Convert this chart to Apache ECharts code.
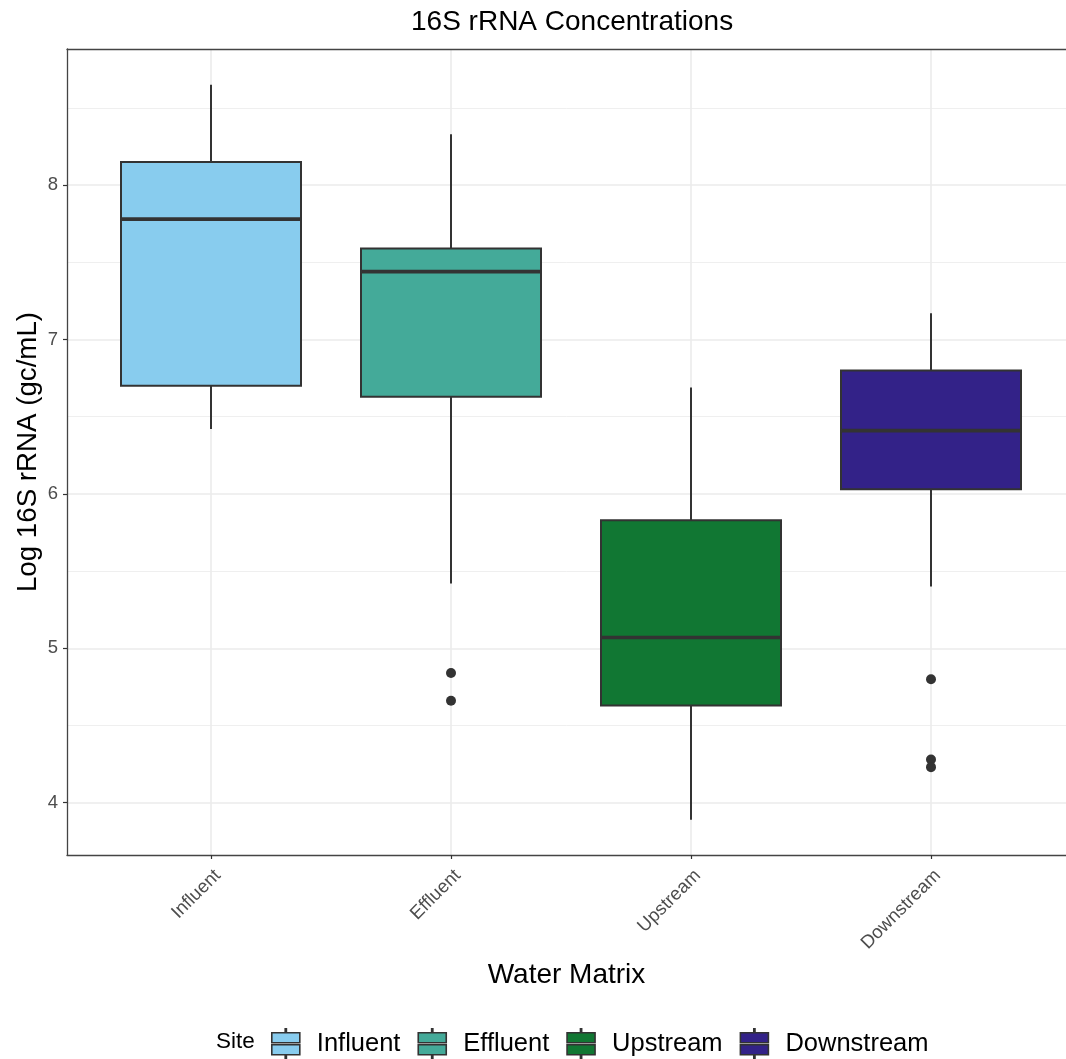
<!DOCTYPE html>
<html>
<head>
<meta charset="utf-8">
<script src="https://cdn.jsdelivr.net/npm/echarts@6/dist/echarts.min.js"></script>
<style>
html,body{margin:0;padding:0;background:#fff;overflow:hidden;}
#chart{width:1066px;height:1059px;}
</style>
</head>
<body>
<div id="chart"></div>
<script>
// ---- data ----
const categories = ['Influent', 'Effluent', 'Upstream', 'Downstream'];
const lowWhisker  = [6.42, 5.42, 3.89, 5.40];
const q1          = [6.70, 6.63, 4.63, 6.03];
const median      = [7.78, 7.44, 5.07, 6.41];
const q3          = [8.15, 7.59, 5.83, 6.80];
const highWhisker = [8.65, 8.33, 6.69, 7.17];
const outlierSite  = ['Effluent', 'Effluent', 'Downstream', 'Downstream', 'Downstream'];
const outlierValue = [4.84, 4.66, 4.80, 4.28, 4.23];
const yTicks = [4, 5, 6, 7, 8];

// ---- style ----
const colors = ['#88CCEE', '#44AA99', '#117733', '#332288'];
const FONT = '"Liberation Sans", Arial, Helvetica, sans-serif';
const catPos = categories.map((c, i) => i + 1);
// panel runs past the right edge of the picture (cropped), so x range ends early
const X_MIN = 0.4, X_MAX = 4.5625;

function renderBox(params, api) {
  const x = api.value(0);
  const lo = api.coord([x, api.value(1)]);
  const b1 = api.coord([x, api.value(2)]);
  const md = api.coord([x, api.value(3)]);
  const b3 = api.coord([x, api.value(4)]);
  const hi = api.coord([x, api.value(5)]);
  const w = api.size([0.75, 0])[0];
  const cx = lo[0];
  const fill = api.visual('color');
  const ls = { stroke: '#333333', lineWidth: 2 };
  return {
    type: 'group',
    children: [
      { type: 'line', shape: { x1: cx, y1: b3[1], x2: cx, y2: hi[1] }, style: ls },
      { type: 'line', shape: { x1: cx, y1: b1[1], x2: cx, y2: lo[1] }, style: ls },
      { type: 'rect', shape: { x: cx - w / 2, y: b3[1], width: w, height: b1[1] - b3[1] },
        style: { fill: fill, stroke: '#333333', lineWidth: 2 } },
      { type: 'line', shape: { x1: cx - w / 2, y1: md[1], x2: cx + w / 2, y2: md[1] },
        style: { stroke: '#333333', lineWidth: 3.6 } }
    ]
  };
}

const boxSeries = categories.map((name, i) => ({
  type: 'custom',
  name: name,
  itemStyle: { color: colors[i] },
  data: [[catPos[i], lowWhisker[i], q1[i], median[i], q3[i], highWhisker[i]]],
  encode: { x: 0, y: [1, 2, 3, 4, 5] },
  renderItem: renderBox,
  z: 3
}));

const outlierSeries = {
  type: 'scatter',
  name: 'outliers',
  data: outlierSite.map((s, i) => [categories.indexOf(s) + 1, outlierValue[i]]),
  symbol: 'circle',
  symbolSize: 10,
  itemStyle: { color: '#333333', opacity: 1 },
  z: 4
};

const legendIcon = 'path://M13.4,0h1.2v4h-1.2z M0,4h28v10h-28z M0,16h28v10h-28z M13.4,26h1.2v4h-1.2z';
const frameLine = { show: true, lineStyle: { color: '#444444', width: 1.3 } };

const option = {
  backgroundColor: '#ffffff',
  animation: false,
  textStyle: { fontFamily: FONT },
  title: {
    text: '16S rRNA Concentrations',
    left: 406, top: 3,
    textStyle: { fontFamily: FONT, fontSize: 28, fontWeight: 'normal', color: '#000000' }
  },
  graphic: [{
    type: 'text', left: 216, top: 1030,
    style: { text: 'Site', fontFamily: FONT, fontSize: 22.5, fill: '#000000' }
  }],
  legend: {
    data: categories.map(c => ({ name: c, icon: legendIcon })),
    left: 271, top: 1028,
    padding: 0,
    itemWidth: 28, itemHeight: 30,
    itemGap: 17,
    itemStyle: { borderColor: '#333333', borderWidth: 1.6 },
    textStyle: { fontFamily: FONT, fontSize: 25.5, color: '#000000', padding: [0, 0, 0, 12] },
    selectedMode: false
  },
  grid: {
    left: 67, right: 0, top: 49, bottom: 204,
    show: false
  },
  xAxis: [{
    type: 'value', min: X_MIN, max: X_MAX,
    name: 'Water Matrix', nameLocation: 'middle', nameGap: 106,
    nameTextStyle: { fontFamily: FONT, fontSize: 28, color: '#000000' },
    axisLine: frameLine,
    axisTick: { show: true, length: 4, customValues: catPos, lineStyle: { color: '#333333', width: 1.2 } },
    axisLabel: {
      customValues: catPos, rotate: 45, margin: 11, verticalAlign: 'top', align: 'right',
      formatter: v => categories[Math.round(v) - 1] || '',
      fontFamily: FONT, fontSize: 18.5, color: '#4d4d4d'
    },
    splitLine: { show: true, lineStyle: { color: '#ebebeb', width: 1.6 } }
  }, {
    type: 'value', min: X_MIN, max: X_MAX, position: 'top',
    axisLine: frameLine,
    axisTick: { show: false }, axisLabel: { show: false }, splitLine: { show: false }
  }],
  yAxis: {
    type: 'value', min: 3.661, max: 8.882,
    name: 'Log 16S rRNA (gc/mL)', nameLocation: 'middle', nameGap: 25, nameMoveOverlap: false,
    nameTextStyle: { fontFamily: FONT, fontSize: 27.7, color: '#000000' },
    axisLine: frameLine,
    axisTick: { show: true, length: 4, customValues: yTicks, lineStyle: { color: '#333333', width: 1.2 } },
    axisLabel: { customValues: yTicks, margin: 9, fontFamily: FONT, fontSize: 18.5, color: '#4d4d4d' },
    splitLine: { show: true, lineStyle: { color: '#ebebeb', width: 1.6 } },
    minorTick: { show: false, splitNumber: 2 },
    minorSplitLine: { show: true, lineStyle: { color: '#ebebeb', width: 0.8 } }
  },
  series: boxSeries.concat([outlierSeries])
};

const chart = echarts.init(document.getElementById('chart'), null, { renderer: 'canvas' });
chart.setOption(option);
</script>
</body>
</html>
